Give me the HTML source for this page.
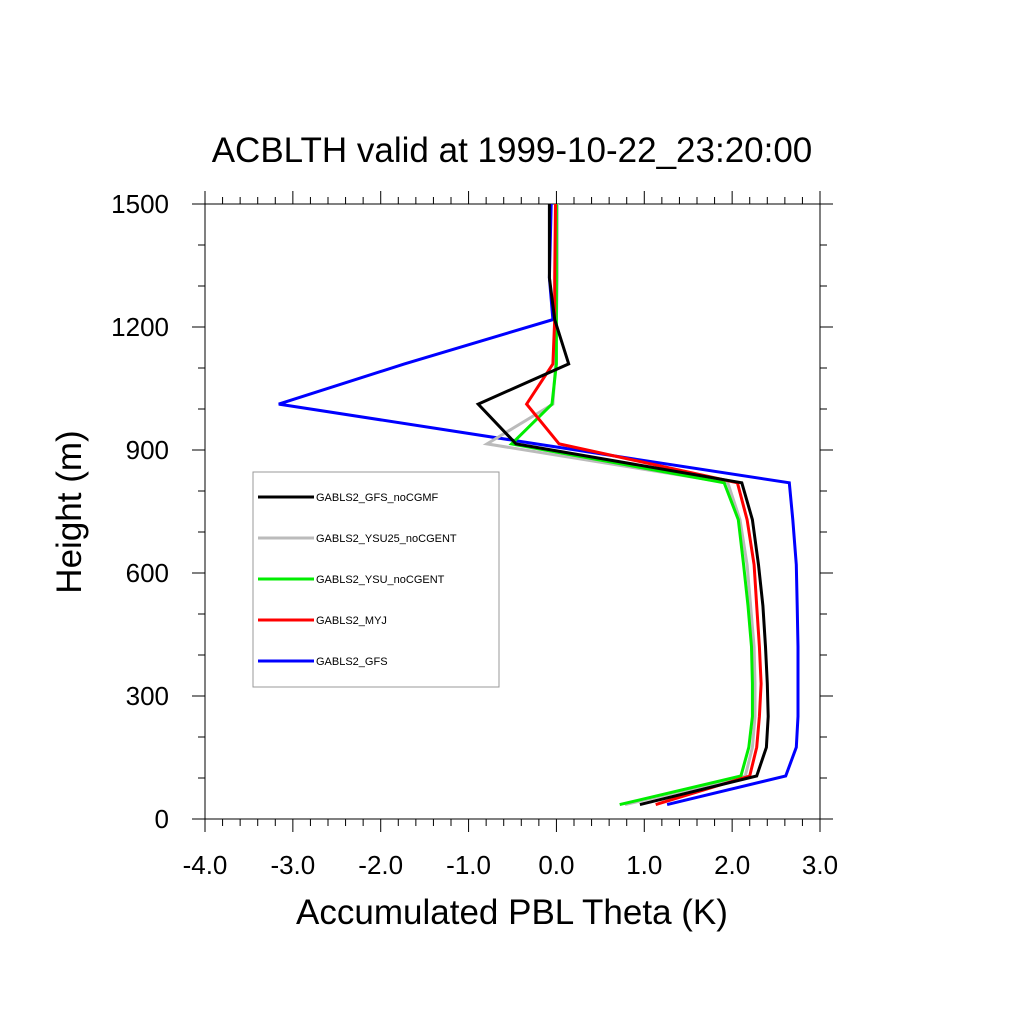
<!DOCTYPE html>
<html><head><meta charset="utf-8"><style>body{margin:0;background:#fff}svg{display:block;font-family:"Liberation Sans",sans-serif}</style></head>
<body>
<svg id="c" width="1024" height="1024">
<text x="512" y="162" text-anchor="middle" font-size="35">ACBLTH valid at 1999-10-22_23:20:00</text>
<text x="512" y="924" text-anchor="middle" font-size="35">Accumulated PBL Theta (K)</text>
<text transform="translate(81,512) rotate(-90)" text-anchor="middle" font-size="35">Height (m)</text>
<g id="axes"></g><g id="series"></g><g id="legend"></g>
</svg>
<script>
const heights=[35,105,175,250,330,420,520,620,730,820,915,1012,1110,1218,1320,1500];
const seriesNames=["GABLS2_GFS_noCGMF","GABLS2_YSU25_noCGENT","GABLS2_YSU_noCGENT","GABLS2_MYJ","GABLS2_GFS"];
const seriesColors=["#000","#bbb","#0e0","#f00","#00f"];
const blue=[1.26,2.61,2.73,2.75,2.75,2.75,2.74,2.73,2.69,2.65,-0.23,-3.16,-1.73,-0.04,-0.08,-0.06];
const black=[0.95,2.28,2.39,2.41,2.40,2.38,2.35,2.30,2.23,2.11,-0.46,-0.89,0.14,-0.02,-0.08,-0.08];
const red=[1.13,2.20,2.28,2.31,2.33,2.31,2.28,2.25,2.17,2.06,0.03,-0.34,-0.04,-0.02,-0.02,-0.01];
const gray=[0.78,2.15,2.23,2.26,2.26,2.25,2.21,2.17,2.09,1.95,-0.79,-0.04,-0.01,0.0,0.01,0.01];
const green=[0.72,2.10,2.19,2.23,2.23,2.22,2.18,2.13,2.07,1.91,-0.51,-0.05,0.0,0.0,0.0,0.0];
const xTicks=[-4,-3,-2,-1,0,1,2,3];
const xTickLabels=["-4.0","-3.0","-2.0","-1.0","0.0","1.0","2.0","3.0"];
const yTicks=[0,300,600,900,1200,1500];
const X0=205,X1=820,Y0=819,Y1=204;
const xs=v=>X0+(v+4)/7*(X1-X0), ys=h=>Y0-h/1500*(Y0-Y1);
const NS="http://www.w3.org/2000/svg";
function mk(t,a,p){const e=document.createElementNS(NS,t);for(const k in a)e.setAttribute(k,a[k]);p.appendChild(e);return e;}
const ax=document.getElementById('axes');
const fr=mk('rect',{x:X0,y:Y1,width:X1-X0,height:Y0-Y1,fill:'none',stroke:'#000','stroke-width':1},ax);


for(let i=0;i<=35;i++){const v=-4+i*0.2,x=xs(v),L=(i%5==0)?13:7;
 mk('line',{x1:x,x2:x,y1:Y0,y2:Y0+L,stroke:'#000'},ax);mk('line',{x1:x,x2:x,y1:Y1,y2:Y1-L,stroke:'#000'},ax);}
for(let i=0;i<=15;i++){const y=ys(i*100),L=(i%3==0)?13:7;
 mk('line',{x1:X0,x2:X0-L,y1:y,y2:y,stroke:'#000'},ax);mk('line',{x1:X1,x2:X1+L,y1:y,y2:y,stroke:'#000'},ax);}
xTicks.forEach((v,i)=>{const t=mk('text',{x:xs(v),y:Y0+55,'text-anchor':'middle','font-size':26},ax);t.textContent=xTickLabels[i];
 
 });
yTicks.forEach(v=>{const t=mk('text',{x:X0-36,y:ys(v)+9,'text-anchor':'end','font-size':26},ax);t.textContent=String(v);
 
 });
const sg=document.getElementById('series');
const data=[black,gray,green,red,blue];
[4,1,2,3,0].forEach(i=>{const d=data[i].map((v,k)=>(k?'L':'M')+xs(v).toFixed(1)+','+ys(heights[k]).toFixed(1)).join('');
 const p=mk('path',{d:d,fill:'none',stroke:seriesColors[i],'stroke-width':3,'stroke-linejoin':'miter'},sg);
 
 });
const lg=document.getElementById('legend');


mk('rect',{x:253,y:472,width:246,height:215,fill:'#fff',stroke:'#999','stroke-width':1},lg);
seriesNames.forEach((n,i)=>{const y=497+i*41;
 const g=mk('g',{},lg);
 
 
 mk('line',{x1:258,x2:314,y1:y,y2:y,stroke:seriesColors[i],'stroke-width':3},g);
 const t=mk('text',{x:316,y:y+4,'font-size':11},g);t.textContent=n;});
</script>
</body></html>
